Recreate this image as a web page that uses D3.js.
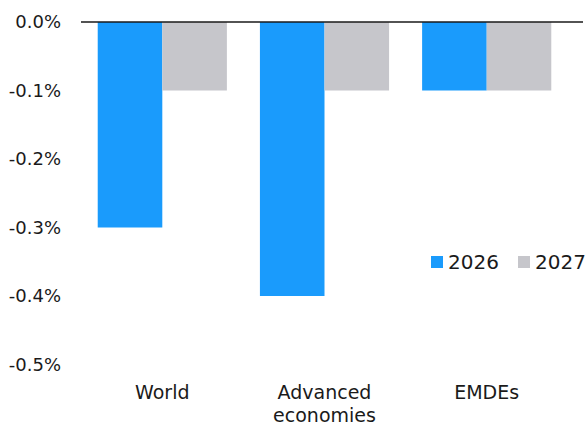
<!DOCTYPE html>
<html><head><meta charset="utf-8">
<script src="https://cdn.jsdelivr.net/npm/d3@7"></script>
<style>body{margin:0;background:#fff}svg{display:block}text{font-family:"DejaVu Sans",sans-serif;fill:#1a1a1a}</style>
</head><body><svg id="c" width="587" height="428"></svg>
<script>
const categories = [["World"], ["Advanced", "economies"], ["EMDEs"]];
const series = ["2026", "2027"];
const values2026 = [-0.3, -0.4, -0.1];
const values2027 = [-0.1, -0.1, -0.1];
const yTicks = [0, -0.1, -0.2, -0.3, -0.4, -0.5];
const colors = ["#1a9bfc", "#c6c6cb"];

const svg = d3.select("#c");
const y = d3.scaleLinear().domain([0, -0.5]).range([22, 364.5]);
const x0 = d3.scaleBand().domain(d3.range(categories.length)).range([81.5, 567.5]).paddingInner(0.2037).paddingOuter(0.1);
const x1 = d3.scaleBand().domain(series).range([0, x0.bandwidth()]);

// y tick labels
const yAxis = d3.axisLeft(y).tickValues(yTicks).tickSize(0).tickPadding(0)
  .tickFormat(d => d3.format(".1f")(d).replace("\u2212", "-") + "%");
const ga = svg.append("g").attr("transform", "translate(61,0)").call(yAxis);
ga.select(".domain").remove();
ga.selectAll("text").style("font-size", "18px").style("font-family", "DejaVu Sans").attr("fill", "#1a1a1a");

const data = categories.map((c, i) => ({i, vals: [values2026[i], values2027[i]]}));
const groups = svg.append("g").selectAll("g").data(data).join("g")
  .attr("transform", d => `translate(${x0(d.i)},0)`);
groups.selectAll("rect").data(d => d.vals.map((v, k) => ({k, v}))).join("rect")
  .attr("x", d => x1(series[d.k]))
  .attr("width", x1.bandwidth())
  .attr("y", y(0))
  .attr("height", d => y(d.v) - y(0))
  .attr("fill", d => colors[d.k]);

// zero line
svg.append("line").attr("x1", 81).attr("x2", 583).attr("y1", y(0)).attr("y2", y(0))
  .attr("stroke", "#1a1a1a").attr("stroke-width", 1.5);

// category labels
categories.forEach((lines, i) => {
  const t = svg.append("text").attr("x", x0(i) + x0.bandwidth() / 2).attr("y", 399)
    .attr("text-anchor", "middle").style("font-size", "19px");
  lines.forEach((l, j) => t.append("tspan").attr("x", x0(i) + x0.bandwidth() / 2).attr("dy", j ? 22.5 : 0).text(l));
});

// legend
const leg = svg.append("g");
const legX = [431, 518];
series.forEach((s, k) => {
  leg.append("rect").attr("x", legX[k]).attr("y", 256).attr("width", 12).attr("height", 12).attr("fill", colors[k]);
  leg.append("text").attr("x", legX[k] + 17).attr("y", 269).style("font-size", "20px").text(s);
});
</script></body></html>
